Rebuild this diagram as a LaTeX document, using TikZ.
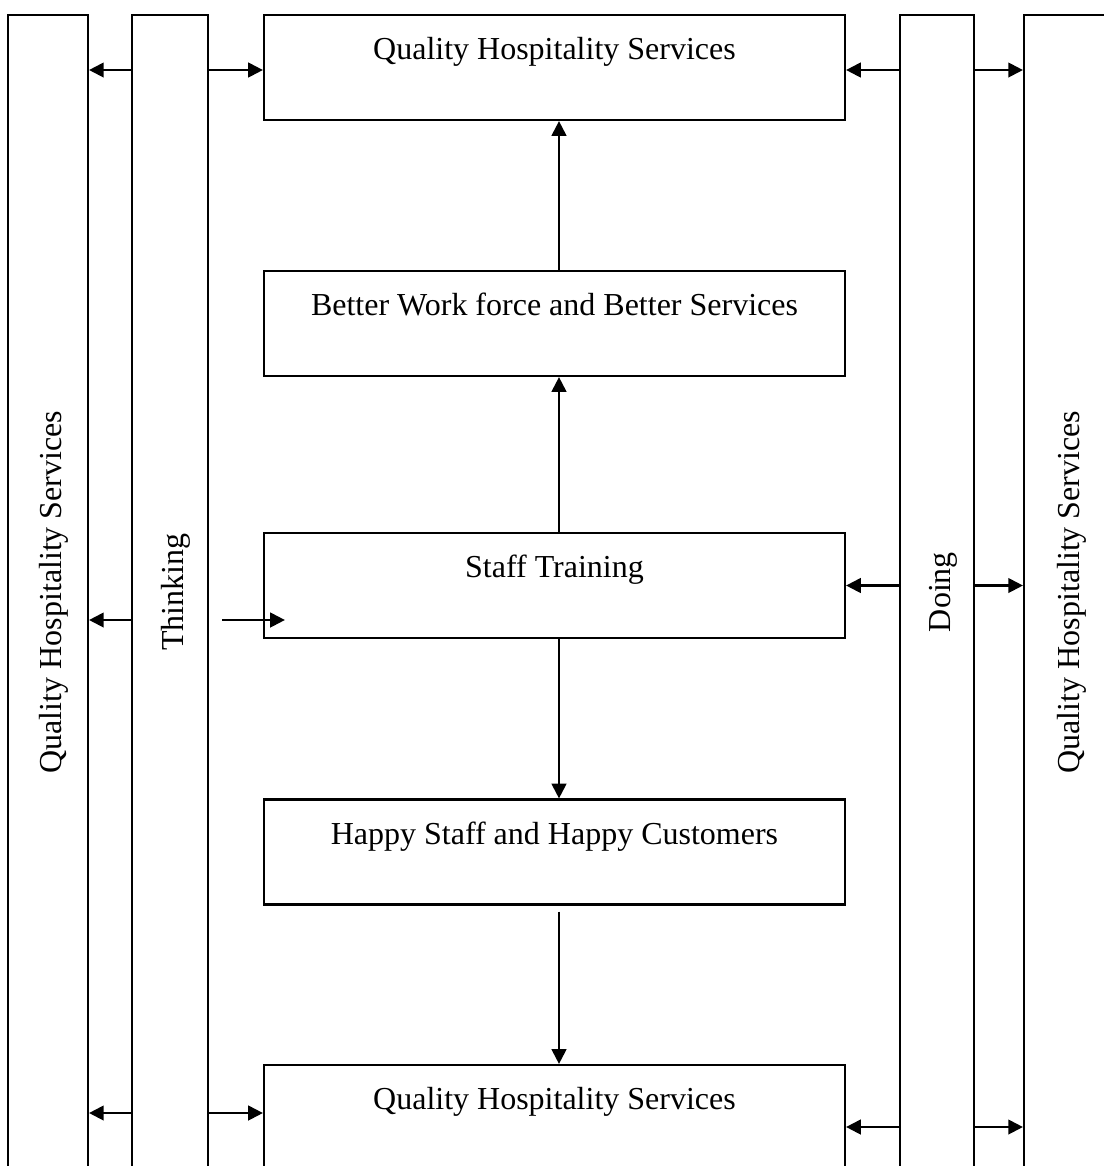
\documentclass[tikz,border=0pt]{standalone}
\usepackage{fontspec}
\setmainfont{Liberation Serif}
\usepackage{graphicx}
\usepackage{tikz}
\usetikzlibrary{arrows.meta}
\usetikzlibrary{calc}
\tikzstyle{line} = [draw, line width=0.8pt, -{Triangle[length=5.5pt,width=5.5pt]}]
\newcommand{\uptext}[1]{\rotatebox{90}{\rule{0pt}{13pt}#1}}

\begin{document}
\begin{tikzpicture}[x=0.375pt, y=-0.375pt, font=\fontsize{12}{14}\selectfont,
				stage/.style={draw, line width=0.8pt, rectangle, minimum width=217.9pt, minimum height=39.4pt, inner sep=0pt, text height=8pt, text depth=14pt},
				pillar/.style={draw, line width=0.8pt, rectangle, minimum height=432.8pt, inner sep=0pt}]

				\clip (0,0) rectangle (1104,1166);

				\node (qtop) at (554.5, 67.5) [stage] {Quality Hospitality Services};
				\node (better) at (554.5, 323.5) [stage] {Better Work force and Better Services};
				\node (train) at (554.5, 585.5) [stage] {Staff Training};
				\node (happy) at (554.5, 852) [stage] {Happy Staff and Happy Customers};
				\node (qbot) at (554.5, 1117.5) [stage] {Quality Hospitality Services};

				\node (qleft) at (48, 592) [pillar, minimum width=30pt] {\uptext{Quality Hospitality Services}};
				\node (think) at (170, 592) [pillar, minimum width=28.5pt] {\uptext{Thinking}};
				\node (doing) at (937, 592) [pillar, minimum width=27.75pt] {\uptext{Doing}};
				\node (qright) at (1066, 592) [pillar, minimum width=31.5pt] {\uptext{Quality Hospitality Services}};

				\draw [line] ($(better.north)+(4.5,0)$) -- ($(qtop.south)+(4.5,0)$);
				\draw [line] ($(train.north)+(4.5,0)$) -- ($(better.south)+(4.5,0)$);
				\draw [line] ($(train.south)+(4.5,0)$) -- ($(happy.north)+(4.5,0)$);
				\draw [line] ($(happy.south)+(4.5,6)$) -- ($(qbot.north)+(4.5,0)$);

				\coordinate (tl) at ($(qtop.west)+(0,2.5)$);
				\coordinate (tr) at ($(qtop.east)+(0,2.5)$);
				\draw [line] (think.west |- tl) -- (qleft.east |- tl);
				\draw [line] (think.east |- tl) -- (tl);
				\draw [line] (doing.west |- tr) -- (tr);
				\draw [line] (doing.east |- tr) -- (qright.west |- tr);

				\coordinate (tlow) at ($(train.west)+(0,34.5)$);
				\draw [line] (think.west |- tlow) -- (qleft.east |- tlow);
				\draw [line] ($(think.east |- tlow)+(13,0)$) -- ($(tlow)+(22,0)$);
				\draw [line] (doing.west |- train.east) -- (train.east);
				\draw [line] (doing.east |- train.east) -- (qright.west |- train.east);

				\coordinate (bl) at ($(qbot.west)+(0,-4.5)$);
				\coordinate (br) at ($(qbot.east)+(0,9.5)$);
				\draw [line] (think.west |- bl) -- (qleft.east |- bl);
				\draw [line] (think.east |- bl) -- (bl);
				\draw [line] (doing.west |- br) -- (br);
				\draw [line] (doing.east |- br) -- (qright.west |- br);

			\end{tikzpicture}
\end{document}
